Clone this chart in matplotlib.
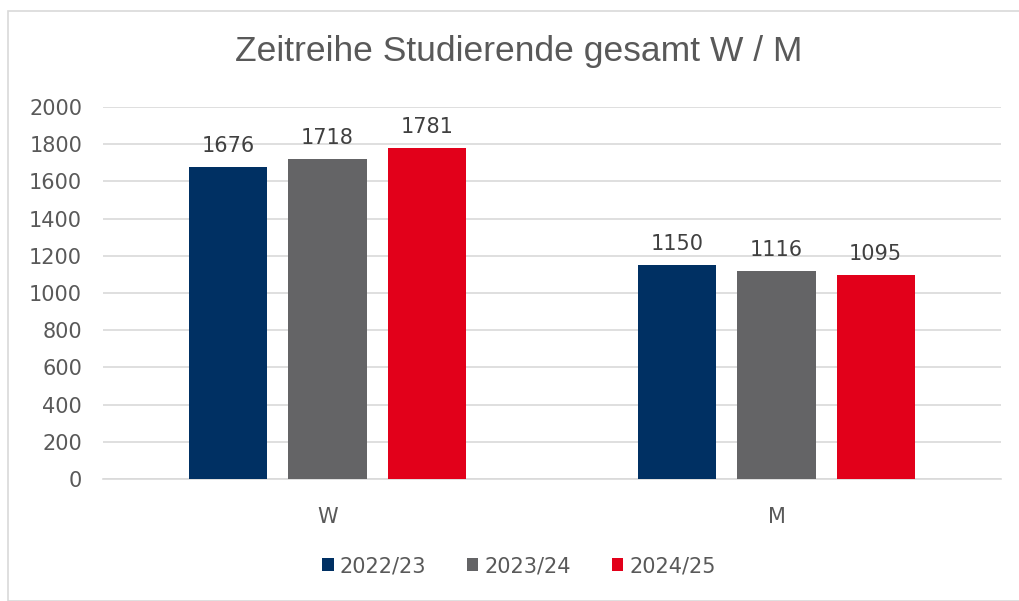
import matplotlib
matplotlib.use("Agg")
import matplotlib.pyplot as plt
from matplotlib.patches import Rectangle
import numpy as np

categories = ["W", "M"]
series_names = ["2022/23", "2023/24", "2024/25"]
values_2022 = [1676, 1150]
values_2023 = [1718, 1116]
values_2024 = [1781, 1095]
colors = ["#003063", "#646466", "#E2001A"]
yticks = [0, 200, 400, 600, 800, 1000, 1200, 1400, 1600, 1800, 2000]

plt.rcParams['font.family'] = ['DejaVu Sans']
W, H = 1019, 601
fig = plt.figure(figsize=(W/100, H/100), dpi=100)
ax = fig.add_axes([103/W, 1-479/H, (1001-103)/W, (479-107)/H])

fig.patches.append(Rectangle((8/W, 0), 1.2, 1-11/H, transform=fig.transFigure,
                             fill=False, edgecolor="#D9D9D9", linewidth=1.2))

x = np.arange(len(categories))
bw = 0.174
step = 0.221
for i, (vals, name, c) in enumerate(zip([values_2022, values_2023, values_2024], series_names, colors)):
    pos = x + (i - 1) * step
    ax.bar(pos, vals, width=bw, color=c, label=name, zorder=3)
    for xp, v in zip(pos, vals):
        ax.annotate(str(v), (xp, v), xytext=(0, 8), textcoords="offset points",
                    ha="center", va="bottom", fontsize=15, color="#404040")

ax.set_xlim(-0.5, 1.5)
ax.set_ylim(0, 2000)
ax.set_yticks(yticks)
ax.set_yticklabels([str(t) for t in yticks], fontsize=15, color="#595959")
ax.set_xticks(x)
ax.set_xticklabels(categories, fontsize=15, color="#595959")
ax.tick_params(axis="both", length=0)
ax.tick_params(axis="y", pad=15)
ax.tick_params(axis="x", pad=20)
ax.grid(axis="y", color="#D9D9D9", linewidth=1.2, zorder=0)
for s in ["top", "right", "left"]:
    ax.spines[s].set_visible(False)
ax.spines["bottom"].set_color("#D9D9D9")
ax.spines["bottom"].set_linewidth(1.2)

fig.text(519/W, 1-52/H, "Zeitreihe Studierende gesamt W / M", ha="center", va="center",
         fontsize=25.5, color="#595959", family=["Liberation Sans", "DejaVu Sans"])

leg = fig.legend(loc="center", bbox_to_anchor=(519/W, 1-566/H), ncol=3, frameon=False,
                 fontsize=15, handlelength=0.55, handleheight=0.55, handletextpad=0.3,
                 columnspacing=1.95)
for t in leg.get_texts():
    t.set_color("#595959")

fig.savefig("out.png", dpi=100)
